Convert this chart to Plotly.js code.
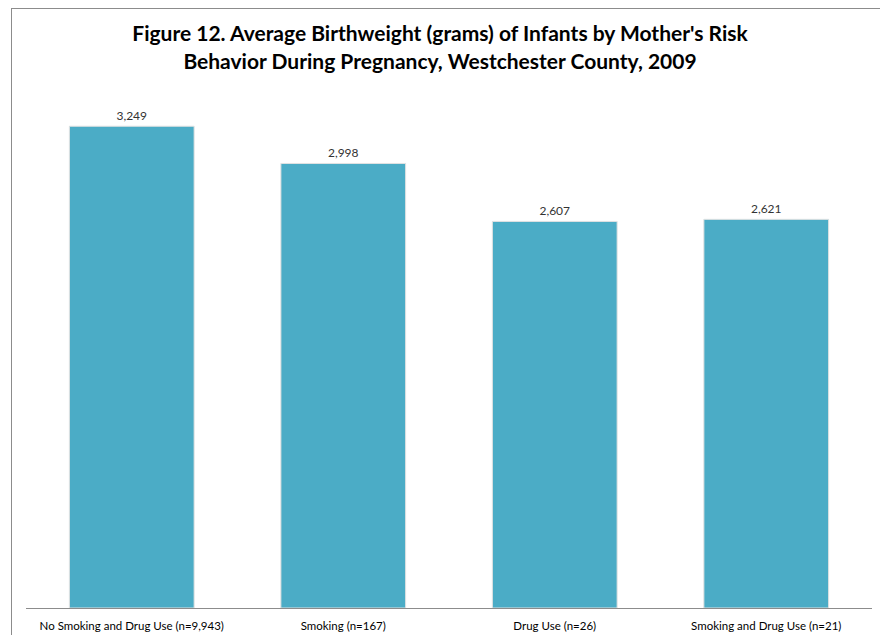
<!DOCTYPE html>
<html>
<head>
<meta charset="utf-8">
<script src="https://cdn.plot.ly/plotly-3.0.1.min.js"></script>
<style>
  html, body { margin: 0; padding: 0; background: #fff; overflow: hidden; }
  #chart { width: 880px; height: 635px; position: absolute; left: 0; top: 0; }
  #frame { position: absolute; left: 11px; top: 8px; width: 900px; height: 700px; border: 1px solid #8c8c8c; pointer-events: none; }
</style>
</head>
<body>
<div id="chart"></div>
<div id="frame"></div>
<script>
const categories = [
  "No Smoking and Drug Use (n=9,943)",
  "Smoking (n=167)",
  "Drug Use (n=26)",
  "Smoking and Drug Use (n=21)"
];
const birthweights = [3249, 2998, 2607, 2621];
const valueLabels = ["3,249", "2,998", "2,607", "2,621"];

const FONT = "Lato, 'Open Sans', sans-serif";

const trace = {
  type: "bar",
  x: categories,
  y: birthweights,
  text: valueLabels,
  textposition: "outside",
  cliponaxis: false,
  textfont: { family: FONT, size: 12, color: "#333" },
  marker: { color: "#4BACC6", line: { color: "#e2e2e2", width: 1 } },
  width: 0.59,
  hoverinfo: "x+y"
};

const layout = {
  width: 880,
  height: 635,
  margin: { l: 26, r: 8, t: 89, b: 27 },
  paper_bgcolor: "#ffffff",
  plot_bgcolor: "#ffffff",
  showlegend: false,
  title: {
    text: "<b>Figure 12. Average Birthweight (grams) of Infants by Mother's Risk<br>Behavior During Pregnancy, Westchester County, 2009</b>",
    font: { family: FONT, size: 21, color: "#000" },
    x: 0.5, xanchor: "center",
    y: 0.935, yanchor: "top"
  },
  xaxis: {
    type: "category",
    showline: true, linecolor: "#8c8c8c", linewidth: 1,
    ticks: "", showgrid: false,
    ticklabelstandoff: 7,
    tickfont: { family: FONT, size: 11.5, color: "#000" },
    automargin: false
  },
  yaxis: {
    range: [0, 3500],
    visible: false,
    showgrid: false,
    zeroline: false
  },
  bargap: 0.41
};

Plotly.newPlot("chart", [trace], layout, { displayModeBar: false, staticPlot: true });
</script>
</body>
</html>
